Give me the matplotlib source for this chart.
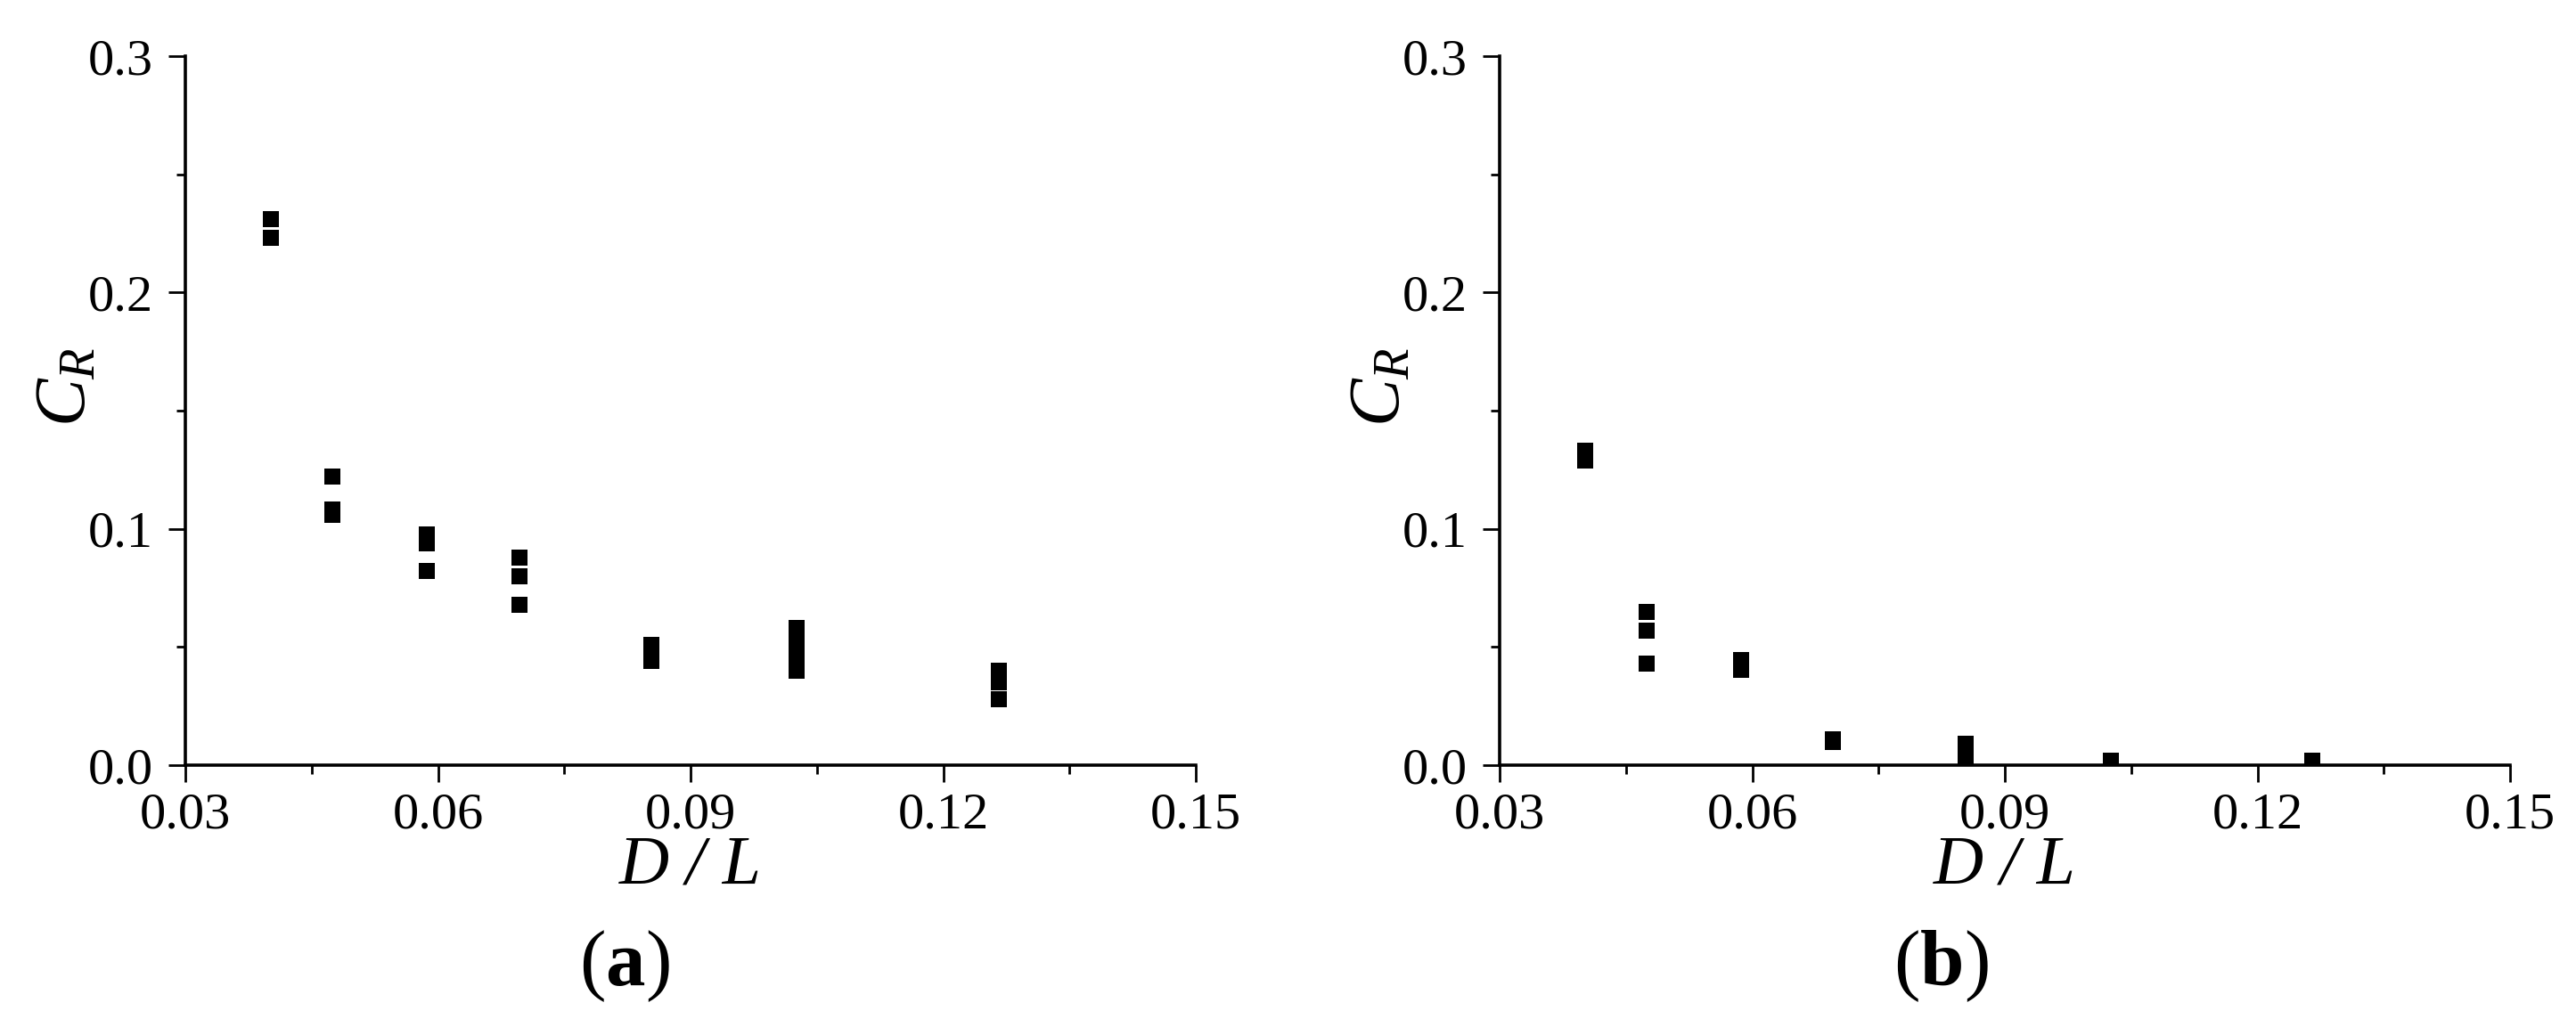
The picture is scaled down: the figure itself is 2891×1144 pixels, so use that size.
import matplotlib
matplotlib.use('Agg')
import matplotlib.pyplot as plt
from matplotlib.ticker import MultipleLocator, FormatStrFormatter

plt.rcParams['font.family'] = ['Liberation Serif', 'DejaVu Serif']
plt.rcParams['mathtext.fontset'] = 'custom'
plt.rcParams['mathtext.rm'] = 'Liberation Serif'
plt.rcParams['mathtext.it'] = 'Liberation Serif:italic'
plt.rcParams['mathtext.bf'] = 'Liberation Serif:bold'

# (a) D/L vs C_R
dl_a = [0.0401, 0.0401,
        0.0474, 0.0474, 0.0474,
        0.0587, 0.0587, 0.0587,
        0.0697, 0.0697, 0.0697,
        0.0853, 0.0853, 0.0853,
        0.1026, 0.1026, 0.1026, 0.1026, 0.1026,
        0.1266, 0.1266, 0.1266]
cr_a = [0.231, 0.223,
        0.122, 0.108, 0.106,
        0.0976, 0.0937, 0.082,
        0.088, 0.080, 0.068,
        0.051, 0.047, 0.044,
        0.058, 0.054, 0.049, 0.045, 0.040,
        0.040, 0.035, 0.028]

# (b) D/L vs C_R
dl_b = [0.0401, 0.0401,
        0.0474, 0.0474, 0.0474,
        0.0587, 0.0587,
        0.0696, 0.0696,
        0.0853, 0.0853,
        0.1026,
        0.1265]
cr_b = [0.133, 0.129,
        0.065, 0.057, 0.043,
        0.0446, 0.0402,
        0.011, 0.0098,
        0.0092, 0.003,
        0.002,
        0.002]

fig = plt.figure(figsize=(28.91, 11.44), dpi=100)
ax1 = fig.add_axes([0.0720, 0.2491, 0.3922, 0.6958])
ax2 = fig.add_axes([0.5822, 0.2491, 0.3922, 0.6958])

for ax, x, y in [(ax1, dl_a, cr_a), (ax2, dl_b, cr_b)]:
    ax.plot(x, y, 's', color='black', markersize=13, markeredgewidth=0)
    ax.set_xlim(0.03, 0.15)
    ax.set_ylim(0.0, 0.3)
    ax.xaxis.set_major_locator(MultipleLocator(0.03))
    ax.xaxis.set_minor_locator(MultipleLocator(0.015))
    ax.yaxis.set_major_locator(MultipleLocator(0.1))
    ax.yaxis.set_minor_locator(MultipleLocator(0.05))
    ax.xaxis.set_major_formatter(FormatStrFormatter('%.2f'))
    ax.yaxis.set_major_formatter(FormatStrFormatter('%.1f'))
    ax.spines['top'].set_visible(False)
    ax.spines['right'].set_visible(False)
    ax.spines['left'].set_linewidth(2.6)
    ax.spines['bottom'].set_linewidth(2.6)
    ax.tick_params(which='major', direction='out', length=14, width=2, labelsize=42, pad=8)
    ax.tick_params(which='minor', direction='out', length=7, width=2)
    ax.tick_params(axis='y', which='major', pad=12)
    ax.set_xlabel('D / L', fontsize=56, fontstyle='italic')
    ax.set_ylabel('$C_R$', fontsize=58)
    ax.xaxis.set_label_coords(0.5, -0.098)
    ax.yaxis.set_label_coords(-0.084, 0.534)

fig.text(0.2425, 0.052, r'($\mathbf{a}$)', fontsize=64, ha='center', va='center')
fig.text(0.7535, 0.052, r'($\mathbf{b}$)', fontsize=64, ha='center', va='center')

fig.savefig('out.png', dpi=100)
